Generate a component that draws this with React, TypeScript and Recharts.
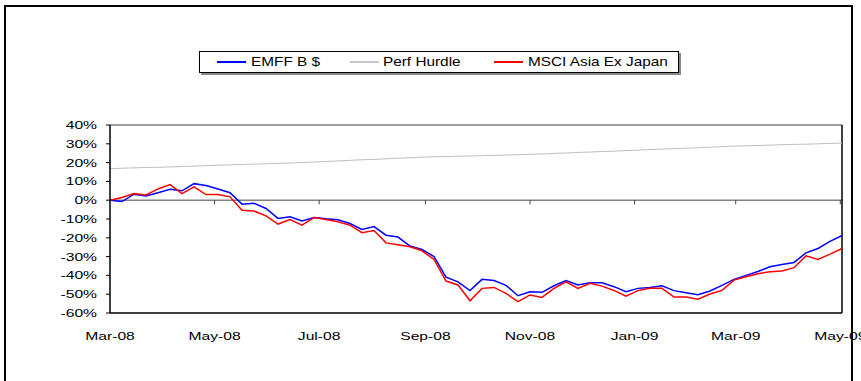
import React from 'react';
import { LineChart, Line, XAxis, YAxis, ReferenceLine } from 'recharts';

// weekly observations
const weeks = [
  '2008-03-01', '2008-03-08', '2008-03-15', '2008-03-22', '2008-03-29',
  '2008-04-05', '2008-04-12', '2008-04-19', '2008-04-26',
  '2008-05-03', '2008-05-10', '2008-05-17', '2008-05-24', '2008-05-31',
  '2008-06-07', '2008-06-14', '2008-06-21', '2008-06-28',
  '2008-07-05', '2008-07-12', '2008-07-19', '2008-07-26',
  '2008-08-02', '2008-08-09', '2008-08-16', '2008-08-23', '2008-08-30',
  '2008-09-06', '2008-09-13', '2008-09-20', '2008-09-27',
  '2008-10-04', '2008-10-11', '2008-10-18', '2008-10-25',
  '2008-11-01', '2008-11-08', '2008-11-15', '2008-11-22', '2008-11-29',
  '2008-12-06', '2008-12-13', '2008-12-20', '2008-12-27',
  '2009-01-03', '2009-01-10', '2009-01-17', '2009-01-24', '2009-01-31',
  '2009-02-07', '2009-02-14', '2009-02-21', '2009-02-28',
  '2009-03-07', '2009-03-14', '2009-03-21', '2009-03-28',
  '2009-04-04', '2009-04-11', '2009-04-18', '2009-04-25',
  '2009-05-02',
];

const emff = [
  0, -0.7, 3.2, 2.3, 4.0, 5.8, 5.0, 8.8, 7.8, 6.0,
  4.0, -2.1, -1.6, -4.4, -9.7, -8.8, -11.0, -9.2, -9.9, -10.4,
  -12.4, -15.6, -14.0, -18.6, -19.6, -24.4, -26.2, -30.0, -40.9, -43.4,
  -48.1, -42.1, -42.7, -45.3, -50.8, -48.7, -49.0, -45.5, -42.8, -45.1,
  -43.9, -43.9, -46.0, -48.7, -46.9, -46.4, -45.5, -48.1, -49.2, -50.3,
  -48.3, -45.3, -42.1, -40.0, -37.9, -35.4, -34.2, -33.1, -28.0, -25.7,
  -21.9, -18.8,
];

const hurdle = [
  16.8, 17.0, 17.2, 17.4, 17.5, 17.7, 17.9, 18.1, 18.4, 18.6,
  18.8, 19.0, 19.2, 19.4, 19.6, 19.8, 20.0, 20.3, 20.6, 20.9,
  21.2, 21.5, 21.7, 22.0, 22.3, 22.6, 22.9, 23.1, 23.2, 23.4,
  23.5, 23.7, 23.9, 24.0, 24.2, 24.4, 24.6, 24.9, 25.1, 25.4,
  25.6, 25.9, 26.1, 26.4, 26.6, 26.9, 27.2, 27.4, 27.7, 27.9,
  28.2, 28.5, 28.8, 28.9, 29.1, 29.3, 29.5, 29.7, 29.8, 30.0,
  30.2, 30.4,
];

const msci = [
  0, 1.4, 3.5, 2.8, 6.0, 8.3, 3.5, 7.1, 3.0, 3.0,
  1.8, -5.3, -5.8, -8.3, -12.7, -10.3, -13.3, -9.2, -10.3, -11.5,
  -13.3, -17.3, -16.1, -22.7, -23.7, -24.8, -26.9, -31.5, -43.0, -45.1,
  -53.5, -46.9, -46.4, -49.6, -54.0, -50.4, -51.7, -46.9, -43.4, -46.9,
  -44.2, -45.7, -48.0, -51.0, -48.1, -46.9, -46.9, -51.5, -51.5, -52.7,
  -49.9, -48.0, -42.5, -40.7, -39.1, -38.1, -37.7, -35.9, -29.6, -31.5,
  -28.7, -25.7,
];

const monthTicks = ['2008-03-01', '2008-05-01', '2008-07-01', '2008-09-01', '2008-11-01', '2009-01-01', '2009-03-01', '2009-05-01'];
const monthLabels = ['Mar-08', 'May-08', 'Jul-08', 'Sep-08', 'Nov-08', 'Jan-09', 'Mar-09', 'May-09'];
const yTicks = [-60, -50, -40, -30, -20, -10, 0, 10, 20, 30, 40];

const FONT = '"Liberation Sans", Arial, sans-serif';

const dayOf = (d: string) => (Date.parse(d) - Date.parse(weeks[0])) / 86400000;
const tickDays = monthTicks.map(dayOf);
const lastDay = dayOf(weeks[weeks.length - 1]);

const data = weeks.map((w, i) => ({ t: dayOf(w), emff: emff[i], hurdle: hurdle[i], msci: msci[i] }));

const XTick = (props: any) => {
  const { x, y, payload } = props;
  const label = monthLabels[tickDays.indexOf(payload.value)];
  return (
    <g transform={`translate(${x},${y})`}>
      <text transform="scale(1.35,1)" textAnchor="middle" dy={27} fontSize={11.6} fontFamily={FONT} fill="#000">
        {label}
      </text>
    </g>
  );
};

const YTick = (props: any) => {
  const { x, y, payload } = props;
  return (
    <g transform={`translate(${x},${y})`}>
      <text transform="scale(1.35,1)" textAnchor="end" dy={4} fontSize={11.6} fontFamily={FONT} fill="#000">
        {`${payload.value}%`}
      </text>
    </g>
  );
};

const legendItems = [
  { name: 'EMFF B $', color: '#0000ff', line: 17, text: 51 },
  { name: 'Perf Hurdle', color: '#c8c8c8', line: 150, text: 183 },
  { name: 'MSCI Asia Ex Japan', color: '#ff0000', line: 294, text: 328 },
];

export default function App() {
  return (
    <div style={{ position: 'absolute', left: 0, top: 0, width: 861, height: 381, overflow: 'hidden', background: '#fff' }}>
      {/* chart frame */}
      <div style={{ position: 'absolute', left: 4, top: 5, width: 849, height: 420, border: '2px solid #000', boxSizing: 'border-box' }} />

      {/* legend box */}
      <div
        style={{
          position: 'absolute', left: 199, top: 51, width: 480, height: 22,
          border: '1px solid #000', boxSizing: 'border-box', boxShadow: '2px 2px 0 #888', background: '#fff',
        }}
      >
        {legendItems.map((it) => (
          <React.Fragment key={it.name}>
            <div style={{ position: 'absolute', left: it.line, top: 9, width: 29, height: 2, background: it.color }} />
            <span
              style={{
                position: 'absolute', left: it.text, top: 2, fontFamily: FONT, fontSize: 13, lineHeight: '16px',
                whiteSpace: 'nowrap', transform: 'scaleX(1.18)', transformOrigin: 'left center', color: '#000',
              }}
            >
              {it.name}
            </span>
          </React.Fragment>
        ))}
      </div>

      <div style={{ position: 'absolute', left: 0, top: 0 }}>
        <LineChart width={861} height={381} data={data} margin={{ top: 125, right: 19, bottom: 38, left: 50 }}>
          <XAxis
            dataKey="t"
            type="number"
            domain={['dataMin', 'dataMax']}
            ticks={tickDays}
            interval={0}
            tick={<XTick />}
            tickLine={false}
            tickSize={0}
            tickMargin={0}
            height={30}
            axisLine={{ stroke: '#000', strokeWidth: 1.5 }}
          />
          <YAxis
            type="number"
            domain={[-60, 40]}
            ticks={yTicks}
            interval={0}
            width={60}
            tickSize={4}
            tickMargin={9}
            tick={<YTick />}
            axisLine={{ stroke: '#000', strokeWidth: 1.5 }}
            tickLine={{ stroke: '#000' }}
          />
          <ReferenceLine y={40} stroke="#808080" strokeWidth={1.5} />
          <ReferenceLine y={0} stroke="#808080" strokeWidth={1.5} />
          <ReferenceLine x={lastDay} stroke="#000" strokeWidth={1.5} />
          {tickDays.slice(1).map((d) => (
            <ReferenceLine key={d} segment={[{ x: d, y: 0 }, { x: d, y: -2.2 }]} stroke="#404040" />
          ))}
          <Line type="linear" dataKey="emff" stroke="#0000ff" strokeWidth={1.5} dot={false} isAnimationActive={false} />
          <Line type="linear" dataKey="hurdle" stroke="#c0c0c0" strokeWidth={1} dot={false} isAnimationActive={false} />
          <Line type="linear" dataKey="msci" stroke="#ff0000" strokeWidth={1.5} dot={false} isAnimationActive={false} />
        </LineChart>
      </div>
    </div>
  );
}
